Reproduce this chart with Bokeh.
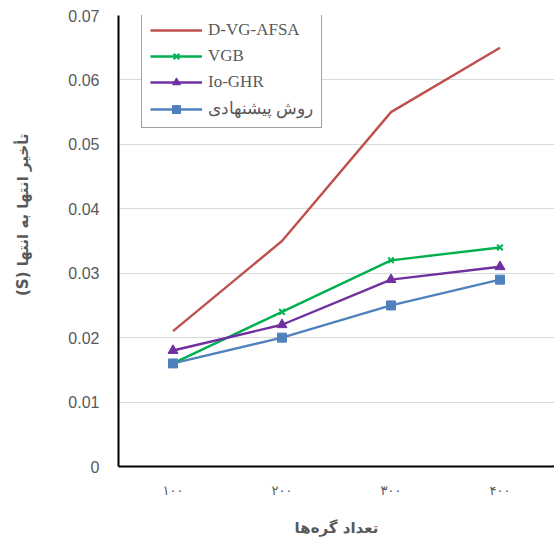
from bokeh.plotting import figure
from bokeh.models import FixedTicker, Legend, LegendItem, Range1d, FactorRange
from bokeh.embed import file_html
from bokeh.resources import INLINE

categories = ["۱۰۰", "۲۰۰", "۳۰۰", "۴۰۰"]
d_vg_afsa = [0.021, 0.035, 0.055, 0.065]
vgb = [0.016, 0.024, 0.032, 0.034]
io_ghr = [0.018, 0.022, 0.029, 0.031]
proposed = [0.016, 0.020, 0.025, 0.029]
y_ticks = [0.0, 0.01, 0.02, 0.03, 0.04, 0.05, 0.06, 0.07]
y_tick_labels = ["0", "0.01", "0.02", "0.03", "0.04", "0.05", "0.06", "0.07"]

p = figure(width=554, height=540, x_range=FactorRange(*categories),
           y_range=Range1d(0, 0.07), output_backend="svg", toolbar_location=None,
           min_border_left=118, min_border_right=0, min_border_top=15, min_border_bottom=74)
p.outline_line_color = None
p.background_fill_color = "white"

gray = "#595959"
# axes
p.yaxis.ticker = FixedTicker(ticks=y_ticks)
p.yaxis.major_label_overrides = {t: l for t, l in zip(y_ticks, y_tick_labels)}
p.yaxis.major_tick_line_color = None
p.yaxis.major_tick_out = 0
p.yaxis.major_tick_in = 0
p.yaxis.minor_tick_line_color = None
p.yaxis.axis_line_color = "black"
p.yaxis.axis_line_width = 2
p.yaxis.major_label_text_color = gray
p.yaxis.major_label_text_font = "Liberation Sans"
p.yaxis.major_label_text_font_size = "16px"
p.yaxis.major_label_standoff = 19
p.yaxis.axis_label = "\u2003\u2003\u2003\u2002(S) تأخیر انتها به انتها"
p.yaxis.axis_label_text_font = "DejaVu Sans"
p.yaxis.axis_label_text_font_size = "15px"
p.yaxis.axis_label_text_font_style = "bold"
p.yaxis.axis_label_text_color = gray
p.yaxis.axis_label_standoff = 33

p.xaxis.axis_line_color = "black"
p.xaxis.axis_line_width = 2
p.xaxis.major_tick_line_color = None
p.xaxis.major_label_text_color = gray
p.xaxis.major_label_text_font = "DejaVu Sans"
p.xaxis.major_label_text_font_size = "13px"
p.xaxis.major_label_standoff = 10
p.xaxis.axis_label = "تعداد گره‌ها"
p.xaxis.axis_label_text_font = "DejaVu Sans"
p.xaxis.axis_label_text_font_size = "15px"
p.xaxis.axis_label_text_font_style = "bold"
p.xaxis.axis_label_text_color = gray
p.xaxis.axis_label_standoff = 18

p.xgrid.grid_line_color = None
p.ygrid.grid_line_color = "#D9D9D9"
p.ygrid.grid_line_width = 1

c_red = "#C0504D"
c_green = "#00B050"
c_purple = "#7030A0"
c_blue = "#4F81BD"

r1 = p.line(categories, d_vg_afsa, line_color=c_red, line_width=2.4)
r2 = p.line(categories, vgb, line_color=c_green, line_width=2.4)
r2m = p.scatter(categories, vgb, marker="x", size=8, line_color=c_green, line_width=2)
r3 = p.line(categories, io_ghr, line_color=c_purple, line_width=2.4)
r3m = p.scatter(categories, io_ghr, marker="triangle", size=10, fill_color=c_purple, line_color=c_purple)
r4 = p.line(categories, proposed, line_color=c_blue, line_width=2.4)
r4m = p.scatter(categories, proposed, marker="square", size=9, fill_color=c_blue, line_color=c_blue)

legend = Legend(items=[
    LegendItem(label="D-VG-AFSA", renderers=[r1]),
    LegendItem(label="VGB", renderers=[r2, r2m]),
    LegendItem(label="Io-GHR", renderers=[r3, r3m]),
    LegendItem(label="روش پیشنهادی", renderers=[r4, r4m]),
], location=(23, 338))
legend.label_text_font = "Liberation Serif"
legend.label_text_font_size = "17px"
legend.label_text_color = gray
legend.border_line_color = "#404040"
legend.border_line_width = 1
legend.background_fill_color = "white"
legend.background_fill_alpha = 1
legend.glyph_width = 52
legend.spacing = 6
legend.padding = 8
legend.margin = 0
legend.label_standoff = 6
p.add_layout(legend, "center")

open("out.html", "w").write(file_html(p, INLINE))
